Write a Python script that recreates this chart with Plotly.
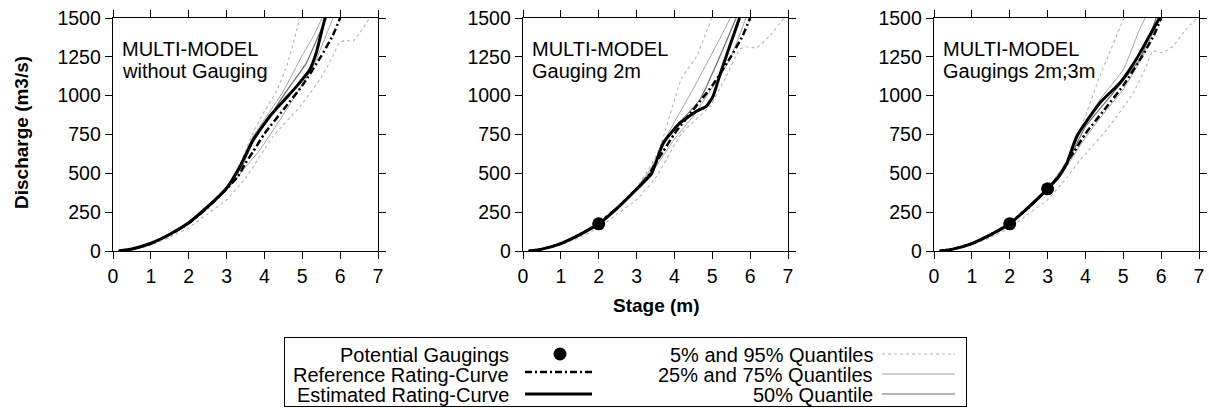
import plotly.graph_objects as go

W, H = 1209, 408
FONT = "Liberation Sans, Arial, Helvetica, sans-serif"

# ---------------- data ----------------
X_TICKS = [0, 1, 2, 3, 4, 5, 6, 7]
Y_TICKS = [0, 250, 500, 750, 1000, 1250, 1500]
PANEL_LINE1 = ["MULTI-MODEL", "MULTI-MODEL", "MULTI-MODEL"]
PANEL_LINE2 = ["without Gauging", "Gauging 2m", "Gaugings 2m;3m"]

# reference rating curve (same in all panels)
REF_S = [0.15, 0.5, 1.0, 1.5, 2.0, 2.5, 3.0, 3.3, 3.5, 3.7, 4.0, 4.5, 5.0, 5.5, 5.8, 6.0]
REF_Q = [0, 12, 48, 105, 178, 280, 400, 480, 565, 640, 755, 910, 1065, 1255, 1385, 1500]

# panel 1 : without gauging
P1_EST_S = [0.15, 0.5, 1.0, 1.5, 2.0, 2.5, 3.0, 3.35, 3.7, 4.14, 4.5, 4.85, 5.2, 5.37, 5.46, 5.6]
P1_EST_Q = [0, 13, 50, 108, 182, 285, 405, 543, 715, 866, 965, 1060, 1168, 1276, 1362, 1500]
P1_Q50_S = [0.15, 0.5, 1.0, 1.5, 2.0, 2.5, 3.0, 3.4, 3.7, 4.1, 4.58, 5.11, 5.46, 5.64]
P1_Q50_Q = [0, 12, 49, 107, 180, 283, 402, 545, 700, 850, 1029, 1211, 1405, 1500]
P1_Q75_S = [0.15, 0.5, 1.0, 1.5, 2.0, 2.5, 3.0, 3.4, 3.7, 4.0, 4.5, 5.0, 5.3, 5.52]
P1_Q75_Q = [0, 14, 52, 112, 188, 292, 412, 560, 737, 845, 1030, 1260, 1385, 1500]
P1_Q25_S = [0.15, 0.5, 1.0, 1.5, 2.0, 2.5, 3.0, 3.5, 3.88, 4.58, 5.29, 5.81]
P1_Q25_Q = [0, 11, 46, 102, 172, 272, 390, 540, 651, 909, 1190, 1500]
P1_Q05_S = [0.15, 0.5, 1.0, 1.5, 2.0, 2.5, 3.0, 3.35, 3.7, 4.0, 4.3, 4.6, 4.94]
P1_Q05_Q = [0, 14, 52, 112, 188, 292, 410, 560, 760, 900, 1020, 1200, 1500]
P1_Q95_S = [0.15, 0.5, 1.0, 1.5, 2.0, 2.5, 3.0, 3.5, 4.23, 4.94, 5.46, 5.81, 5.99, 6.17, 6.34, 6.78]
P1_Q95_Q = [0, 8, 38, 88, 150, 240, 330, 470, 737, 931, 1103, 1254, 1345, 1355, 1351, 1500]

# panel 2 : gauging 2m
P2_EST_S = [0.15, 0.5, 1.0, 1.5, 2.0, 2.5, 3.0, 3.4, 3.7, 4.14, 4.58, 4.84, 5.02, 5.19, 5.46, 5.72]
P2_EST_Q = [0, 12, 48, 105, 175, 278, 398, 500, 694, 823, 899, 931, 996, 1125, 1319, 1500]
P2_Q50_S = [0.15, 0.5, 1.0, 1.5, 2.0, 2.5, 3.0, 3.4, 3.7, 4.0, 4.67, 5.28, 5.63]
P2_Q50_Q = [0, 12, 49, 106, 178, 281, 400, 520, 680, 790, 974, 1297, 1500]
P2_Q75_S = [0.15, 0.5, 1.0, 1.5, 2.0, 2.5, 3.0, 3.4, 3.79, 4.58, 5.37, 5.47]
P2_Q75_Q = [0, 13, 51, 110, 184, 288, 405, 540, 737, 1082, 1448, 1500]
P2_Q25_S = [0.15, 0.5, 1.0, 1.5, 2.0, 2.5, 3.0, 3.5, 4.0, 4.5, 5.02, 5.46, 5.89]
P2_Q25_Q = [0, 11, 46, 102, 172, 272, 392, 540, 720, 870, 1060, 1233, 1500]
P2_Q05_S = [0.15, 0.5, 1.0, 1.5, 2.0, 2.5, 3.0, 3.35, 3.61, 4.19, 4.58, 4.98]
P2_Q05_Q = [0, 14, 52, 112, 188, 292, 410, 540, 660, 1112, 1251, 1500]
P2_Q95_S = [0.15, 0.5, 1.0, 1.5, 2.0, 2.5, 3.0, 3.5, 4.2, 4.93, 5.37, 5.72, 5.89, 6.16, 6.51, 6.9]
P2_Q95_Q = [0, 8, 38, 88, 150, 240, 330, 470, 760, 931, 1125, 1297, 1315, 1308, 1384, 1500]
P2_GAUGE_S = [2.0]
P2_GAUGE_Q = [175]

# panel 3 : gaugings 2m;3m
P3_EST_S = [0.15, 0.5, 1.0, 1.5, 2.0, 2.5, 3.0, 3.3, 3.51, 3.77, 4.38, 4.91, 5.34, 5.69, 5.96]
P3_EST_Q = [0, 12, 48, 105, 175, 282, 400, 480, 565, 737, 953, 1082, 1233, 1384, 1502]
P3_Q50_S = [0.15, 0.5, 1.0, 1.5, 2.0, 2.5, 3.0, 3.5, 4.0, 4.73, 5.43, 5.87]
P3_Q50_Q = [0, 12, 48, 105, 176, 280, 400, 560, 800, 1017, 1233, 1500]
P3_Q75_S = [0.15, 0.5, 1.0, 1.5, 2.0, 2.5, 3.0, 3.5, 3.86, 4.4, 5.0, 5.43, 5.58]
P3_Q75_Q = [0, 13, 51, 110, 182, 287, 405, 575, 760, 980, 1168, 1427, 1500]
P3_Q25_S = [0.15, 0.5, 1.0, 1.5, 2.0, 2.5, 3.0, 3.5, 4.0, 4.56, 5.0, 5.5, 5.95]
P3_Q25_Q = [0, 11, 46, 102, 172, 272, 395, 545, 730, 909, 1040, 1250, 1500]
P3_Q05_S = [0.15, 0.5, 1.0, 1.5, 2.0, 2.5, 3.0, 3.42, 3.86, 4.38, 5.02]
P3_Q05_Q = [0, 14, 52, 112, 186, 290, 410, 543, 780, 1125, 1500]
P3_Q95_S = [0.15, 0.5, 1.0, 1.5, 2.0, 2.5, 3.0, 3.5, 3.86, 4.56, 5.26, 5.61, 5.78, 6.04, 6.31, 6.66, 6.95]
P3_Q95_Q = [0, 8, 38, 88, 150, 240, 330, 470, 586, 780, 1017, 1190, 1287, 1276, 1319, 1427, 1500]
P3_GAUGE_S = [2.0, 3.0]
P3_GAUGE_Q = [175, 400]

LEGEND_LEFT = ["Potential Gaugings", "Reference Rating-Curve", "Estimated Rating-Curve"]
LEGEND_RIGHT = ["5% and 95% Quantiles", "25% and 75% Quantiles", "50% Quantile"]

# ---------------- styles ----------------
REF_STYLE = dict(color="black", width=2.5, dash="7px,3px,2px,3px")
EST_STYLE = dict(color="black", width=3)
Q05_STYLE = dict(color="#b4b4b4", width=1.1, dash="3px,3px")
Q25_STYLE = dict(color="#8c8c8c", width=0.8)
Q50_STYLE = dict(color="#6e6e6e", width=1.2)

panels = [
    dict(est=(P1_EST_S, P1_EST_Q), q50=(P1_Q50_S, P1_Q50_Q), q75=(P1_Q75_S, P1_Q75_Q),
         q25=(P1_Q25_S, P1_Q25_Q), q05=(P1_Q05_S, P1_Q05_Q), q95=(P1_Q95_S, P1_Q95_Q), g=None),
    dict(est=(P2_EST_S, P2_EST_Q), q50=(P2_Q50_S, P2_Q50_Q), q75=(P2_Q75_S, P2_Q75_Q),
         q25=(P2_Q25_S, P2_Q25_Q), q05=(P2_Q05_S, P2_Q05_Q), q95=(P2_Q95_S, P2_Q95_Q),
         g=(P2_GAUGE_S, P2_GAUGE_Q)),
    dict(est=(P3_EST_S, P3_EST_Q), q50=(P3_Q50_S, P3_Q50_Q), q75=(P3_Q75_S, P3_Q75_Q),
         q25=(P3_Q25_S, P3_Q25_Q), q05=(P3_Q05_S, P3_Q05_Q), q95=(P3_Q95_S, P3_Q95_Q),
         g=(P3_GAUGE_S, P3_GAUGE_Q)),
]

# pixel geometry of the plotting areas
PANEL_X = [(113, 378), (523, 788), (934, 1199)]
PANEL_Y = (18, 251)


def pxx(x):
    return x / W


def pxy(y):
    return 1 - y / H


fig = go.Figure()
annotations = []

for i, p in enumerate(panels):
    n = i + 1
    xa = "x" if n == 1 else f"x{n}"
    ya = "y" if n == 1 else f"y{n}"

    def add(xy, style):
        fig.add_trace(go.Scatter(x=xy[0], y=xy[1], mode="lines",
                                 line=dict(**style, shape="spline", smoothing=0.5),
                                 xaxis=xa, yaxis=ya, showlegend=False, hoverinfo="skip"))

    add(p["q05"], Q05_STYLE)
    add(p["q95"], Q05_STYLE)
    add(p["q25"], Q25_STYLE)
    add(p["q75"], Q25_STYLE)
    add(p["q50"], Q50_STYLE)
    add((REF_S, REF_Q), REF_STYLE)
    add(p["est"], EST_STYLE)
    if p["g"] is not None:
        fig.add_trace(go.Scatter(x=p["g"][0], y=p["g"][1], mode="markers",
                                 marker=dict(color="black", size=13), xaxis=xa, yaxis=ya,
                                 showlegend=False, hoverinfo="skip", cliponaxis=False))

    axis_common = dict(showline=True, linecolor="black", linewidth=1.3, mirror="allticks",
                       ticks="outside", ticklen=7, tickwidth=1, tickcolor="black",
                       showgrid=False, zeroline=False, automargin=False,
                       tickfont=dict(family=FONT, size=19.5, color="black"))
    x0, x1 = PANEL_X[i]
    fig.update_layout(**{
        ("xaxis" if n == 1 else f"xaxis{n}"): dict(
            axis_common, domain=[pxx(x0), pxx(x1)], range=[0, 7], tickvals=X_TICKS,
            anchor=ya),
        ("yaxis" if n == 1 else f"yaxis{n}"): dict(
            axis_common, domain=[pxy(PANEL_Y[1]), pxy(PANEL_Y[0])], range=[0, 1500],
            tickvals=Y_TICKS, anchor=xa),
    })
    annotations.append(dict(x=pxx(x0 + 7), y=pxy(48.5), xref="paper", yref="paper",
                            text=PANEL_LINE1[i], showarrow=False, xanchor="left",
                            yanchor="middle", font=dict(family=FONT, size=20, color="black")))
    annotations.append(dict(x=pxx(x0 + 7), y=pxy(70.5), xref="paper", yref="paper",
                            text=PANEL_LINE2[i], showarrow=False, xanchor="left",
                            yanchor="middle", font=dict(family=FONT, size=20, color="black")))

# axis titles
annotations.append(dict(x=pxx(22), y=pxy(133), xref="paper", yref="paper",
                        text="<b>Discharge (m3/s)</b>", textangle=-90, showarrow=False,
                        xanchor="center", yanchor="middle",
                        font=dict(family=FONT, size=19, color="black")))
annotations.append(dict(x=pxx(656), y=pxy(305), xref="paper", yref="paper",
                        text="<b>Stage (m)</b>", showarrow=False,
                        xanchor="center", yanchor="middle",
                        font=dict(family=FONT, size=19, color="black")))

# ---------------- legend box (own axis, pixel units) ----------------
LX0, LX1, LY0, LY1 = 285, 966, 338, 406
fig.update_layout(
    xaxis4=dict(domain=[pxx(LX0), pxx(LX1)], range=[LX0, LX1], showline=True, mirror=True,
                linecolor="black", linewidth=1.3, showgrid=False, zeroline=False,
                showticklabels=False, ticks="", anchor="y4", fixedrange=True,
                automargin=False),
    yaxis4=dict(domain=[pxy(LY1), pxy(LY0)], range=[LY1, LY0], showline=True, mirror=True,
                linecolor="black", linewidth=1.3, showgrid=False, zeroline=False,
                showticklabels=False, ticks="", anchor="x4", fixedrange=True,
                automargin=False),
)
ROWS = [354, 374, 394]
fig.add_trace(go.Scatter(x=[560], y=[ROWS[0]], mode="markers",
                         marker=dict(color="black", size=13), xaxis="x4", yaxis="y4",
                         showlegend=False, hoverinfo="skip"))
fig.add_trace(go.Scatter(x=[525, 592], y=[ROWS[1] - 2, ROWS[1] - 2], mode="lines",
                         line=REF_STYLE, xaxis="x4", yaxis="y4", showlegend=False,
                         hoverinfo="skip"))
fig.add_trace(go.Scatter(x=[525, 592], y=[ROWS[2], ROWS[2]], mode="lines", line=EST_STYLE,
                         xaxis="x4", yaxis="y4", showlegend=False, hoverinfo="skip"))
for r, st in zip(ROWS, [Q05_STYLE, Q25_STYLE, Q50_STYLE]):
    fig.add_trace(go.Scatter(x=[882, 955], y=[r, r], mode="lines", line=st,
                             xaxis="x4", yaxis="y4", showlegend=False, hoverinfo="skip"))
for r, t in zip(ROWS, LEGEND_LEFT):
    annotations.append(dict(x=511, y=r + 1, xref="x4", yref="y4", text=t, showarrow=False,
                            xanchor="right", yanchor="middle",
                            font=dict(family=FONT, size=20, color="black")))
for r, t in zip(ROWS, LEGEND_RIGHT):
    annotations.append(dict(x=875, y=r + 1, xref="x4", yref="y4", text=t, showarrow=False,
                            xanchor="right", yanchor="middle",
                            font=dict(family=FONT, size=20, color="black")))

fig.update_layout(width=W, height=H, margin=dict(l=0, r=0, t=0, b=0, autoexpand=False),
                  paper_bgcolor="white", plot_bgcolor="white", showlegend=False,
                  annotations=annotations)

fig.write_html("out.html", config={"displayModeBar": False, "staticPlot": True},
               post_script="document.body.style.margin='0';document.body.style.overflow='hidden';")
